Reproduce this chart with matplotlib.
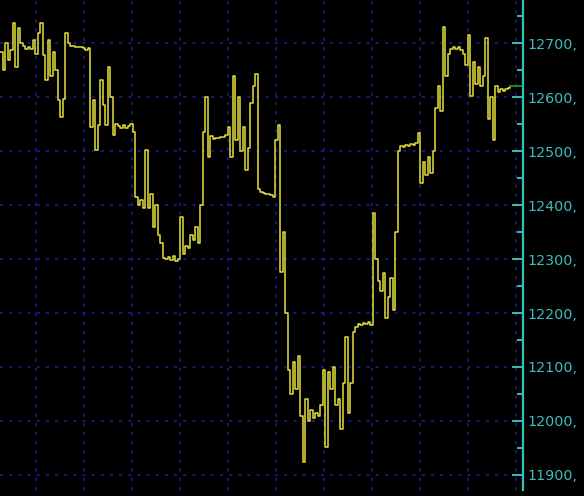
import numpy as np
import matplotlib
matplotlib.use("Agg")
import matplotlib.pyplot as plt
from matplotlib.ticker import FuncFormatter, MultipleLocator

# Price series (one value per time step)
prices = [
    12683, 12650, 12700, 12668, 12688, 12737, 12656, 12728, 12700, 12695,
    12690, 12693, 12690, 12706, 12680, 12719, 12737, 12678, 12631, 12706,
    12640, 12683, 12650, 12594, 12563, 12596, 12719, 12700, 12695, 12694,
    12693, 12692, 12692, 12691, 12688, 12691, 12544, 12594, 12502, 12548,
    12631, 12585, 12548, 12656, 12600, 12530, 12550, 12546, 12542, 12548,
    12543, 12547, 12550, 12535, 12415, 12400, 12410, 12395, 12502, 12395,
    12420, 12360, 12400, 12345, 12330, 12302, 12300, 12303, 12298, 12305,
    12297, 12300, 12378, 12310, 12325, 12320, 12345, 12335, 12360, 12330,
    12400, 12535, 12600, 12490, 12528, 12522, 12525, 12524, 12527, 12526,
    12530, 12545, 12490, 12640, 12520, 12600, 12500, 12545, 12465, 12505,
    12590, 12620, 12642, 12430, 12425, 12423, 12421, 12420, 12418, 12415,
    12520, 12548, 12276, 12350, 12200, 12094, 12050, 12110, 12060, 12120,
    12010, 11924, 12040, 12000, 12020, 12005, 12015, 12010, 12030, 12094,
    11952, 12090, 12060, 12100, 12030, 12040, 11985, 12070, 12155, 12015,
    12070, 12165, 12175, 12180, 12178, 12182, 12180, 12183, 12178, 12385,
    12300, 12260, 12240, 12275, 12190, 12230, 12265, 12205, 12350, 12500,
    12510, 12508, 12512, 12510, 12514, 12512, 12515, 12533, 12440, 12480,
    12455, 12490, 12460, 12500, 12580, 12620, 12575, 12730, 12640, 12680,
    12690, 12693, 12690, 12692, 12688, 12680, 12660, 12715, 12602, 12665,
    12625, 12655, 12620, 12640, 12709, 12560, 12600, 12520, 12620, 12610,
    12615, 12612, 12615, 12617, 12618,
]
y_min, y_max = 11872, 12780
x_max = 209.2

fig = plt.figure(figsize=(5.84, 4.96), dpi=100, facecolor="black")
ax = fig.add_axes([0.0, 0.012, 523 / 584, 0.988])
ax.set_facecolor("black")

x = np.arange(len(prices))
ax.step(x, prices, where="post", color="#e4df3a", lw=1.1, zorder=3)
# last price marker (green)
ax.plot([len(prices) - 1, x_max], [prices[-1] + 2, prices[-1] + 2],
        color="#1fa01f", lw=1.2, zorder=3)

ax.set_xlim(0, x_max)
ax.set_ylim(y_min, y_max)

teal = "#3cbcbc"
ax.yaxis.tick_right()
ax.yaxis.set_label_position("right")
ax.yaxis.set_major_locator(MultipleLocator(100))
ax.yaxis.set_minor_locator(MultipleLocator(50))
ax.yaxis.set_major_formatter(FuncFormatter(lambda v, p: f"{v:.0f},"))
ax.tick_params(axis="y", which="major", direction="in", length=8, width=1.4,
               colors=teal, labelsize=10.3, pad=3)
ax.tick_params(axis="y", which="minor", direction="in", length=4.5, width=1.4,
               colors=teal)
ax.set_xticks(np.arange(14.4, x_max, 19.2))
ax.tick_params(axis="x", which="both", length=0, labelbottom=False)

for s in ["left", "top", "bottom"]:
    ax.spines[s].set_visible(False)
ax.spines["right"].set_color(teal)
ax.spines["right"].set_linewidth(1.6)

ax.grid(True, which="major", color="#20209a", linestyle=(0, (2, 4)), lw=1.1, zorder=1)

fig.savefig("out.png", dpi=100, facecolor="black")
